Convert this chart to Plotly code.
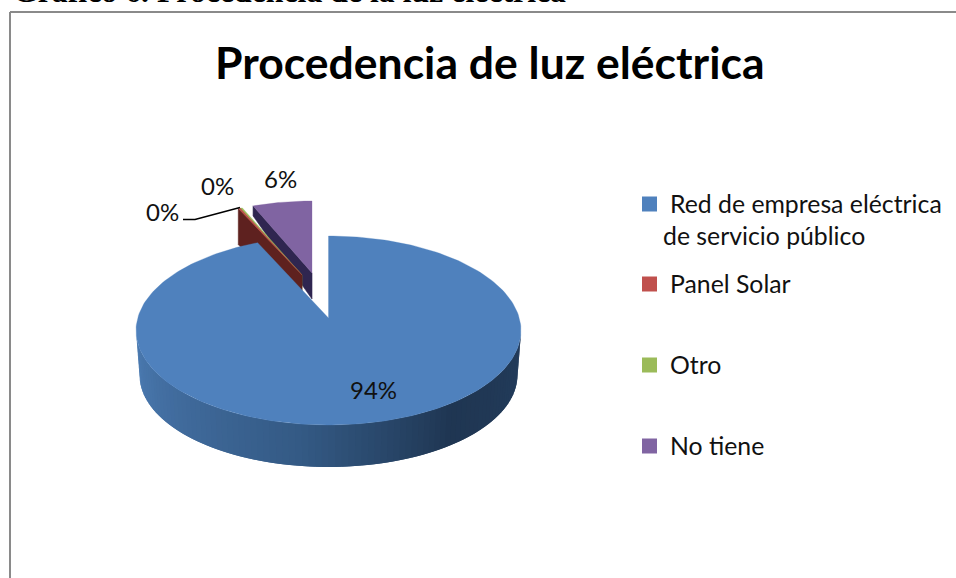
import math
import plotly.graph_objects as go

categories = ["Red de empresa eléctrica<br>de servicio público", "Panel Solar", "Otro", "No tiene"]
values = [94.0, 0.2, 0.2, 5.6]
percent_labels = ["94%", "0%", "0%", "6%"]
top_colors = ["#4F81BD", "#C0504D", "#9BBB59", "#8064A2"]
wall_colors = ["#3F6797", "#5E211F", "#6F8A3C", "#2F2650"]
chart_title = "Procedencia de luz eléctrica"
page_heading = "Gráfico 6. Procedencia de la luz eléctrica"

# (apex x, apex y, ellipse cy, rx, ry) per slice
GEO = [
    (328.5, 318, 330.5, 192.5, 94.5),
    (302, 275, 283, 173, 80),
    (302, 275, 283, 173, 80),
    (312, 273, 281, 171, 80),
]
# radial wall depth at the rim and at the apex
WALL_DEPTH = [None, (36, 36), (36, 36), (10, 26)]
FONT = "Lato"


def arc(g, a0, a1, n=120):
    ax, ay, cy, rx, ry = g
    pts = []
    for i in range(n + 1):
        t = math.radians(a0 + (a1 - a0) * i / n)
        pts.append((ax + rx * math.sin(t), cy - ry * math.cos(t)))
    return pts


def poly(fig, pts, color, lw=0.6):
    fig.add_trace(go.Scatter(
        x=[p[0] for p in pts] + [pts[0][0]], y=[p[1] for p in pts] + [pts[0][1]],
        mode="lines", fill="toself", fillcolor=color,
        line=dict(color=color, width=lw), hoverinfo="skip", showlegend=False))


def mix(c0, c1, f):
    a = [int(c0[i:i + 2], 16) for i in (1, 3, 5)]
    b = [int(c1[i:i + 2], 16) for i in (1, 3, 5)]
    return "#%02x%02x%02x" % tuple(round(a[k] + (b[k] - a[k]) * f) for k in range(3))


total = sum(values)
angles = [0]
for v in values:
    angles.append(angles[-1] + 360 * v / total)

fig = go.Figure()

# exploded slices, back to front: No tiene, Otro, Panel Solar
for i in (3, 2, 1):
    g = GEO[i]
    a0, a1 = angles[i], angles[i + 1]
    p0 = arc(g, a0, a0, 1)[0]
    apex = (g[0], g[1])
    d_rim, d_apex = WALL_DEPTH[i]
    poly(fig, [p0, (p0[0], p0[1] + d_rim), (apex[0], apex[1] + d_apex), apex], wall_colors[i])
    poly(fig, [apex] + arc(g, a0, a1, 30), top_colors[i], 0.3)

# outer wall of the main slice with its horizontal shading
g0 = GEO[0]
BOTTOM = (328.5, 318, 375, 189, 92)
stops = [(0.0, "#4C7CB3"), (0.2, "#416C9E"), (0.45, "#345A85"), (0.72, "#1F3652"), (1.0, "#233C5C")]


def wall_color(f):
    for (f0, c0), (f1, c1) in zip(stops, stops[1:]):
        if f <= f1:
            return mix(c0, c1, (f - f0) / (f1 - f0))
    return stops[-1][1]


STRIPS = 90
for s in range(STRIPS):
    a0 = 270 - 180 * s / STRIPS
    a1 = max(90, 270 - 180 * (s + 2) / STRIPS)
    top = arc(g0, a0, a1, 6)
    bot = arc(BOTTOM, a1, a0, 6)
    poly(fig, top + bot, wall_color((s + 0.5) / STRIPS), 0)

# main slice top face
poly(fig, [(g0[0], g0[1])] + arc(g0, angles[0], angles[1], 240), top_colors[0], 0.3)

# leader line for the first 0% label
fig.add_trace(go.Scatter(x=[183, 195, 240], y=[219.5, 219.5, 207.5], mode="lines",
                         line=dict(color="#000000", width=1.5), hoverinfo="skip", showlegend=False))

# data labels
label_pos = [(373, 389), (162, 211), (217, 185), (280, 178.5)]
ann = []
for txt, (x, y) in zip(percent_labels, label_pos):
    ann.append(dict(x=x, y=y, text=txt, showarrow=False, xanchor="center", yanchor="middle",
                    font=dict(family=FONT, size=24, color="#111111")))

# legend drawn as swatches and text
legend_y = [204, 284, 365, 446]
shapes = []
for name, col, y in zip(categories, top_colors, legend_y):
    shapes.append(dict(type="rect", x0=642, x1=657, y0=y - 7.5, y1=y + 7.5,
                       fillcolor=col, line=dict(width=0), layer="above"))
    parts = name.split("<br>")
    ann.append(dict(x=667.5, y=y - 1, text=parts[0], showarrow=False, xanchor="left", yanchor="middle",
                    font=dict(family=FONT, size=24.8, color="#111111")))
    for k, extra in enumerate(parts[1:], 1):
        ann.append(dict(x=661, y=y - 1 + 32 * k, text=extra, showarrow=False, xanchor="left", yanchor="middle",
                        font=dict(family=FONT, size=24.8, color="#111111")))

# chart frame
shapes.append(dict(type="line", x0=10, x1=956, y0=12, y1=12, line=dict(color="#8A8A8A", width=2)))
shapes.append(dict(type="line", x0=10, x1=10, y0=12, y1=578, line=dict(color="#8A8A8A", width=2)))

ann.append(dict(x=489.5, y=61, text="<b>%s</b>" % chart_title, showarrow=False, xanchor="center", yanchor="middle",
                font=dict(family=FONT, size=44.5, color="#000000")))
ann.append(dict(x=11, y=11, text="<b>%s</b>" % page_heading, showarrow=False, xanchor="left", yanchor="bottom",
                font=dict(family="Liberation Serif", size=31.8, color="#000000")))

fig.update_layout(
    width=956, height=578, autosize=False,
    margin=dict(l=0, r=0, t=0, b=0), paper_bgcolor="#FFFFFF", plot_bgcolor="#FFFFFF",
    xaxis=dict(range=[0, 956], visible=False, fixedrange=True),
    yaxis=dict(range=[578, 0], visible=False, fixedrange=True),
    shapes=shapes, annotations=ann, showlegend=False,
)
fig.write_html("out.html", config=dict(displayModeBar=False),
               post_script="document.body.style.margin='0';document.body.style.overflow='hidden';")
